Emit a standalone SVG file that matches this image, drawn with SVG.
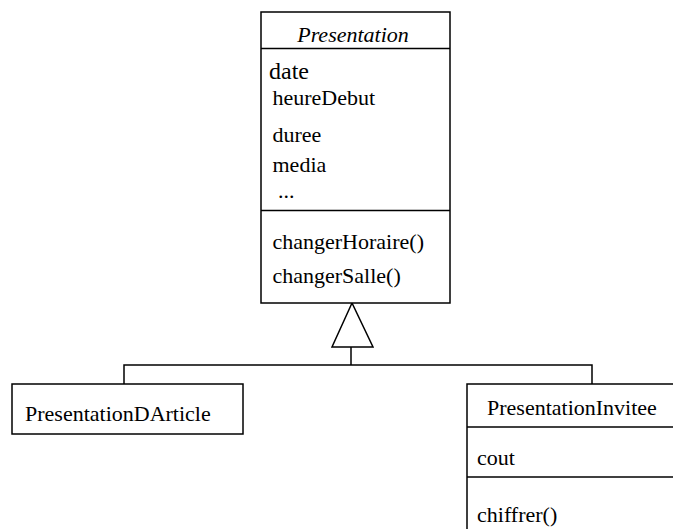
<svg xmlns="http://www.w3.org/2000/svg" width="673" height="529" viewBox="0 0 673 529">
<style>
.box{fill:#fff;stroke:#000;stroke-width:1.5}
.ln{fill:none;stroke:#000;stroke-width:1.5}
text{font-family:"Liberation Serif","Times New Roman",serif;font-size:22px;fill:#000}
.it{font-style:italic}
</style>
<rect width="673" height="529" fill="#fff"/>
<g id="connectors">
<polyline class="ln" points="124,384 124,365 592,365 592,384"/>
<line class="ln" x1="351" y1="347" x2="351" y2="365"/>
<polygon class="box" points="352,303 332,347 373,347"/>
</g>
<g id="Presentation">
<rect class="box" x="261" y="12" width="189" height="291"/>
<line class="ln" x1="261" y1="48.5" x2="450" y2="48.5"/>
<line class="ln" x1="261" y1="210.5" x2="450" y2="210.5"/>
<text class="it" x="353" y="42" text-anchor="middle">Presentation</text>
<text x="269" y="79" style="font-size:24px">date</text>
<text x="272.5" y="105">heureDebut</text>
<text x="272.5" y="141.5">duree</text>
<text x="272.5" y="172">media</text>
<text x="278" y="198">...</text>
<text x="272.5" y="249">changerHoraire()</text>
<text x="272.5" y="283">changerSalle()</text>
</g>
<g id="PresentationDArticle">
<rect class="box" x="12" y="384" width="231" height="50"/>
<text x="25" y="421">PresentationDArticle</text>
</g>
<g id="PresentationInvitee">
<rect class="box" x="467" y="384" width="230" height="160"/>
<line class="ln" x1="467" y1="427" x2="697" y2="427"/>
<line class="ln" x1="467" y1="477" x2="697" y2="477"/>
<text x="487" y="415">PresentationInvitee</text>
<text x="477" y="465">cout</text>
<text x="477" y="522">chiffrer()</text>
</g>
</svg>
